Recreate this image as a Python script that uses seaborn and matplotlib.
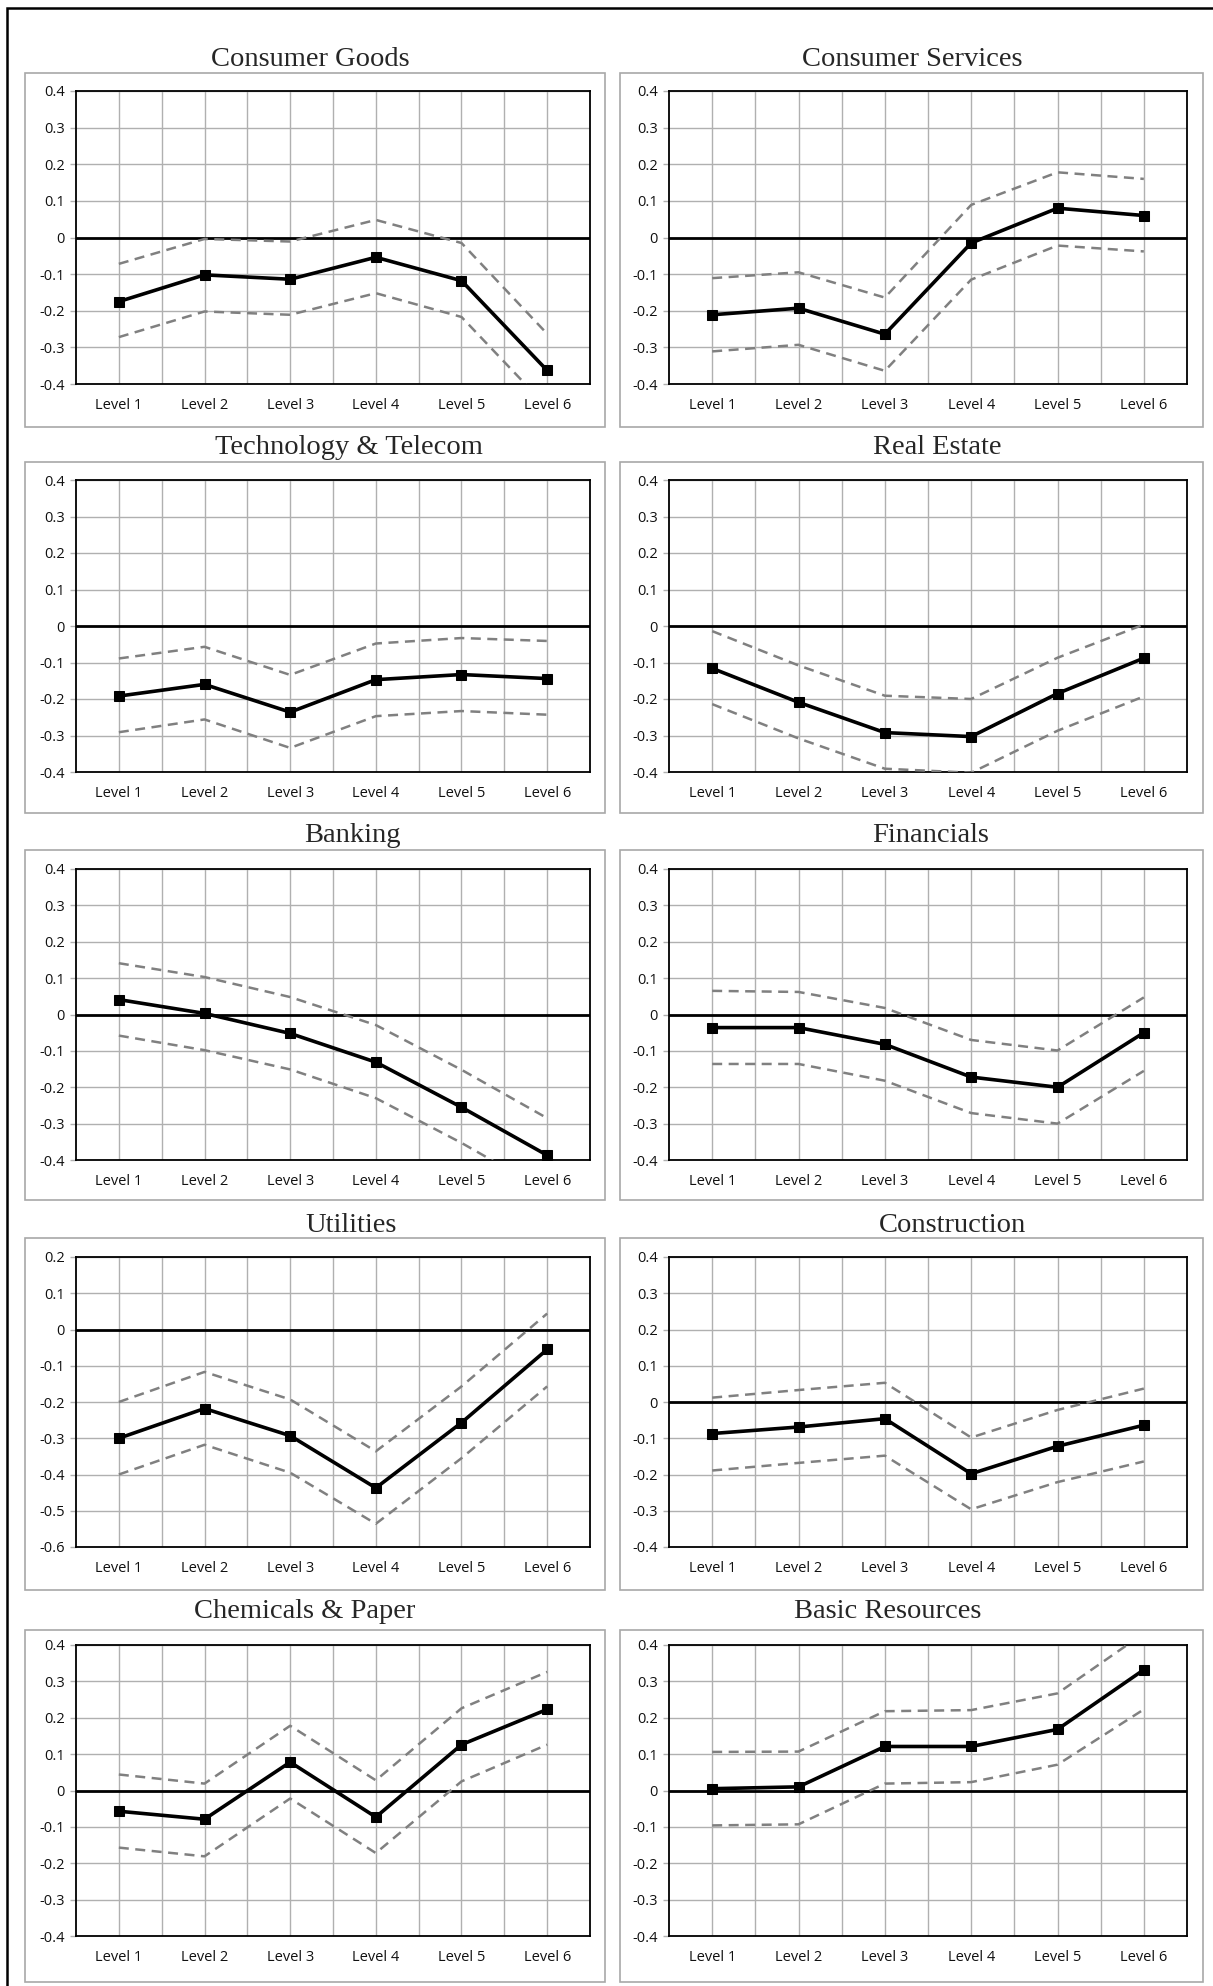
import numpy as np
import pandas as pd
import matplotlib
matplotlib.use("Agg")
import matplotlib.pyplot as plt
from matplotlib.patches import Rectangle
import seaborn as sns

sns.set_style("white")
plt.rcParams["font.family"] = ["Open Sans", "DejaVu Sans"]

levels = ["Level 1", "Level 2", "Level 3", "Level 4", "Level 5", "Level 6"]

# coefficient (solid) and band (dashed) per sector
cg_mid = [-0.175, -0.102, -0.114, -0.054, -0.118, -0.363]
cg_hi = [-0.072, -0.004, -0.011, 0.048, -0.015, -0.263]
cg_lo = [-0.272, -0.202, -0.211, -0.152, -0.217, -0.463]

cs_mid = [-0.211, -0.193, -0.264, -0.015, 0.080, 0.060]
cs_hi = [-0.111, -0.095, -0.164, 0.089, 0.178, 0.160]
cs_lo = [-0.311, -0.293, -0.364, -0.115, -0.022, -0.038]

tt_mid = [-0.192, -0.160, -0.236, -0.147, -0.133, -0.144]
tt_hi = [-0.089, -0.057, -0.134, -0.048, -0.033, -0.041]
tt_lo = [-0.291, -0.256, -0.334, -0.247, -0.233, -0.243]

re_mid = [-0.116, -0.209, -0.292, -0.303, -0.185, -0.088]
re_hi = [-0.014, -0.108, -0.191, -0.200, -0.087, 0.004]
re_lo = [-0.214, -0.308, -0.391, -0.402, -0.287, -0.193]

bk_mid = [0.041, 0.003, -0.052, -0.131, -0.255, -0.387]
bk_hi = [0.141, 0.103, 0.048, -0.029, -0.152, -0.285]
bk_lo = [-0.058, -0.098, -0.151, -0.230, -0.353, -0.487]

fn_mid = [-0.036, -0.036, -0.082, -0.172, -0.200, -0.050]
fn_hi = [0.065, 0.062, 0.018, -0.070, -0.099, 0.047]
fn_lo = [-0.136, -0.136, -0.182, -0.271, -0.300, -0.155]

ut_mid = [-0.300, -0.218, -0.293, -0.437, -0.257, -0.055]
ut_hi = [-0.200, -0.117, -0.193, -0.336, -0.157, 0.044]
ut_lo = [-0.400, -0.318, -0.395, -0.536, -0.355, -0.157]

co_mid = [-0.087, -0.069, -0.046, -0.198, -0.122, -0.064]
co_hi = [0.012, 0.033, 0.053, -0.098, -0.022, 0.037]
co_lo = [-0.189, -0.168, -0.148, -0.296, -0.221, -0.164]

cp_mid = [-0.057, -0.079, 0.078, -0.073, 0.126, 0.223]
cp_hi = [0.044, 0.019, 0.178, 0.028, 0.226, 0.326]
cp_lo = [-0.157, -0.181, -0.022, -0.172, 0.025, 0.126]

br_mid = [0.005, 0.010, 0.121, 0.121, 0.168, 0.332]
br_hi = [0.106, 0.107, 0.218, 0.221, 0.267, 0.432]
br_lo = [-0.096, -0.093, 0.019, 0.023, 0.071, 0.223]

panels = [
    ("Consumer Goods", cg_mid, cg_hi, cg_lo, (-0.4, 0.4)),
    ("Consumer Services", cs_mid, cs_hi, cs_lo, (-0.4, 0.4)),
    ("Technology & Telecom", tt_mid, tt_hi, tt_lo, (-0.4, 0.4)),
    ("Real Estate", re_mid, re_hi, re_lo, (-0.4, 0.4)),
    ("Banking", bk_mid, bk_hi, bk_lo, (-0.4, 0.4)),
    ("Financials", fn_mid, fn_hi, fn_lo, (-0.4, 0.4)),
    ("Utilities", ut_mid, ut_hi, ut_lo, (-0.6, 0.2)),
    ("Construction", co_mid, co_hi, co_lo, (-0.4, 0.4)),
    ("Chemicals & Paper", cp_mid, cp_hi, cp_lo, (-0.4, 0.4)),
    ("Basic Resources", br_mid, br_hi, br_lo, (-0.4, 0.4)),
]

W, H = 1213, 1986
fig = plt.figure(figsize=(W / 100, H / 100), dpi=100)
fig.patch.set_facecolor("white")


def fx(px):
    return px / W


def fy(py):
    return 1 - py / H


# outer frame (only left and top edges visible)
fig.add_artist(Rectangle((fx(7), fy(H + 20)), fx(W + 20), (H + 12) / H,
                         transform=fig.transFigure, fill=False,
                         ec="black", lw=1.8))

# pixel layout: (box_top, plot_top, plot_bottom, box_bottom, title_y)
rows = [
    (73, 91, 384, 427, 59),
    (462, 480, 772, 813, 447),
    (850, 869, 1160, 1200, 836),
    (1238, 1257, 1547, 1590, 1225),
    (1630, 1645, 1936, 1982, 1612),
]
# (box_left, plot_left, plot_right, box_right)
cols = [
    (25, 76, 590, 605),
    (620, 669, 1187, 1203),
]
# horizontal centre of each title (titles are not all centred on their box)
title_x = [310, 912, 349, 937, 352, 931, 351, 953, 305, 888]

grid_c = "#b0b0b0"

for i, (name, mid, hi, lo, ylim) in enumerate(panels):
    r, c = divmod(i, 2)
    bt, pt, pb, bb, ty = rows[r]
    bl, pl, pr, br = cols[c]

    fig.add_artist(Rectangle((fx(bl), fy(bb)), fx(br - bl), (bb - bt) / H,
                             transform=fig.transFigure, fill=False,
                             ec="#a8a8a8", lw=1.2))
    fig.text(fx(title_x[i]), fy(ty), name, ha="center", va="center",
             fontsize=20.5, family="Liberation Serif")

    ax = fig.add_axes([fx(pl), fy(pb), fx(pr - pl), (pb - pt) / H])
    df = pd.DataFrame({"level": levels, "mid": mid, "hi": hi, "lo": lo})

    for col in ["hi", "lo"]:
        sns.lineplot(data=df, x="level", y=col, ax=ax, sort=False,
                     color="#808080", lw=1.8, linestyle=(0, (4, 2.6)),
                     zorder=3)
    sns.lineplot(data=df, x="level", y="mid", ax=ax, sort=False,
                 color="black", lw=2.6, marker="s", markersize=7,
                 markeredgecolor="black", zorder=4)

    ax.axhline(0, color="black", lw=2, zorder=2.5)

    ax.set_xlim(-0.5, 5.5)
    ax.set_ylim(*ylim)
    yt = np.round(np.arange(ylim[0], ylim[1] + 0.001, 0.1), 1)
    ax.set_yticks(yt)
    ax.set_yticklabels(["0" if v == 0 else f"{v:.1f}" for v in yt])
    ax.set_xticks(range(len(levels)))
    ax.set_xticklabels(levels)
    ax.set_xticks(np.arange(0.5, 5.0, 1.0), minor=True)

    ax.grid(True, which="both", axis="x", color=grid_c, lw=1)
    ax.grid(True, which="major", axis="y", color=grid_c, lw=1)
    ax.set_axisbelow(True)

    ax.tick_params(axis="x", which="both", length=0, pad=10, labelsize=10.5,
                   labelcolor="#111111")
    ax.tick_params(axis="y", length=4, width=1, color=grid_c, pad=4,
                   labelsize=10.5, left=True, labelcolor="#111111")
    ax.set_xlabel("")
    ax.set_ylabel("")
    for s in ax.spines.values():
        s.set_visible(True)
        s.set_color("black")
        s.set_linewidth(1.3)

fig.savefig("out.png", dpi=100, facecolor="white")
